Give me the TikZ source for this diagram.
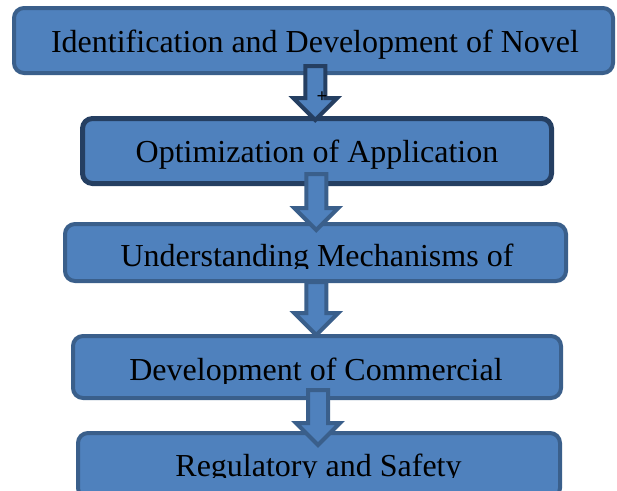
\documentclass[tikz,border=0pt]{standalone}
\usepackage{fontspec}
\setmainfont{Liberation Serif}
\usetikzlibrary{calc}
\definecolor{boxfill}{HTML}{4F81BD}
\definecolor{boxline}{HTML}{3A5F8B}
\definecolor{darkline}{HTML}{253F62}
\tikzset{
	stage/.style={draw=boxline,fill=boxfill,line width=4pt,rounded corners=10pt,inner sep=0pt},
	caption/.style={anchor=base,inner sep=0pt,font=\fontsize{32}{38}\selectfont},
	flowarrow/.style={fill=boxfill,line width=4pt,line join=miter}
}
% block arrow from the bottom of #2 to the top of #3
\newcommand{\stagearrow}[5][boxline]{%
	\draw[flowarrow,draw=#1] let \p1=($(#2.south)!0.5!(#3.north)$), \p2=(#2.south), \p3=(#3.north) in
	(\x1-10pt,\y2+#4) -- (\x1+10pt,\y2+#4) -- (\x1+10pt,\y3-#5+22pt) -- (\x1+22pt,\y3-#5+22pt)
	-- (\x1,\y3-#5) -- (\x1-22pt,\y3-#5+22pt) -- (\x1-10pt,\y3-#5+22pt) -- cycle;}
\begin{document}
\begin{tikzpicture}[x=1pt,y=-1pt]
	\clip (0,0) rectangle (617,490);
	\node[stage,minimum width=599pt,minimum height=65pt] (s1) at (313.5,40.5) {};
	\node[stage,draw=darkline,line width=5pt,minimum width=469pt,minimum height=65pt] (s2) at (317,151) {};
	\node[stage,minimum width=501pt,minimum height=57pt] (s3) at (315.5,252.5) {};
	\node[stage,minimum width=488pt,minimum height=62pt] (s4) at (317,367) {};
	\node[stage,minimum width=482pt,minimum height=65pt] (s5) at (319,465.5) {};
	\stagearrow[darkline]{s1}{s2}{9pt}{4pt}
	\stagearrow{s2}{s3}{12pt}{8pt}
	\stagearrow{s3}{s4}{1pt}{1pt}
	\stagearrow{s4}{s5}{10pt}{14pt}
	\node[inner sep=0pt] (plus) at (322,97) {\fontsize{19}{19}\selectfont\bfseries +};
	\node[caption] (t1) at (315,52) {Identification and Development of Novel};
	\node[caption] (t2) at (317,162) {Optimization of Application};
	% text cut off at the baseline
	\begin{scope}
		\clip (0,0) rectangle (617,268);
		\node[caption] (t3) at (317,266) {Understanding Mechanisms of};
	\end{scope}
	\begin{scope}
		\clip (0,0) rectangle (617,383);
		\node[caption] (t4) at (316,380) {Development of Commercial};
	\end{scope}
	\begin{scope}
		\clip (0,0) rectangle (617,477);
		\node[caption] (t5) at (318.5,476) {Regulatory and Safety};
	\end{scope}
\end{tikzpicture}
\end{document}
